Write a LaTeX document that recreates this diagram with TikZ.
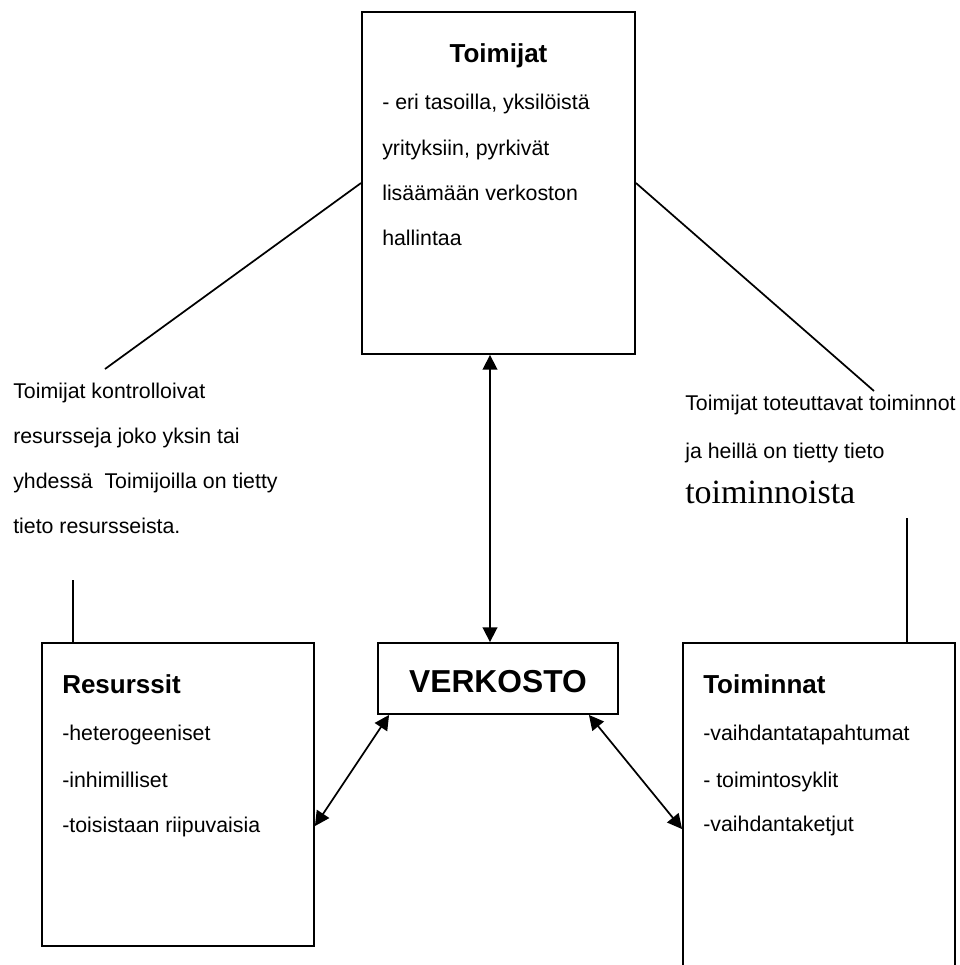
\documentclass[tikz,border=0pt]{standalone}
\usepackage{fontspec}
\setmainfont{Liberation Sans}
\newfontfamily\serifface{Liberation Serif}
\usetikzlibrary{arrows.meta,calc}
\begin{document}
\begin{tikzpicture}[x=0.75pt,y=-0.75pt,
  box/.style n args={2}{draw,line width=1.4pt,inner sep=0pt,
    minimum width=#1,minimum height=#2},
  body/.style={anchor=base west,inner sep=0pt,font=\fontsize{16}{19}\selectfont},
  heading/.style={anchor=base west,inner sep=0pt,font=\fontsize{19.5}{23}\selectfont\bfseries},
  link/.style={line width=1.3pt},
  arr/.style={line width=1.3pt,
    {Triangle[length=11pt,width=11pt]}-{Triangle[length=11pt,width=11pt]}}]
\useasboundingbox (0,0) rectangle (960,965);
\clip (0,0) rectangle (960,965);

% boxes
\node[box={204.75pt}{256.5pt}] (toimijat) at (498.5,183) {};
\node[box={204pt}{227.25pt}] (resurssit) at (178,794.5) {};
\node[box={204pt}{267.75pt}] (toiminnat) at (819,821.5) {};
\node[box={180pt}{53.25pt},text height=21.5pt,
  font=\fontsize{23.8}{28}\selectfont\bfseries]
  (verkosto) at (498,678.5) {VERKOSTO};

% Toimijat
\node[heading,anchor=base] (toimijatT) at (498.5,62) {Toimijat};
\node[body] (tm1) at (382,109) {- eri tasoilla, yksilöistä};
\node[body] (tm2) at (382,155) {yrityksiin, pyrkivät};
\node[body] (tm3) at (382,200) {lisäämään verkoston};
\node[body] (tm4) at (382,245) {hallintaa};

% Resurssit
\node[heading] (resT) at (62,693) {Resurssit};
\node[body] (rs1) at (62,740) {-heterogeeniset};
\node[body] (rs2) at (62,787) {-inhimilliset};
\node[body] (rs3) at (62,832) {-toisistaan riipuvaisia};

% Toiminnat
\node[heading] (toiT) at (703,693) {Toiminnat};
\node[body] (to1) at (703,740) {-vaihdantatapahtumat};
\node[body] (to2) at (703,787) {- toimintosyklit};
\node[body] (to3) at (703,831) {-vaihdantaketjut};

% side notes
\node[body] (ln1) at (13,398) {Toimijat kontrolloivat};
\node[body] (ln2) at (13,443) {resursseja joko yksin tai};
\node[body] (ln3) at (13,488) {yhdessä\ \ Toimijoilla on tietty};
\node[body] (ln4) at (13,533) {tieto resursseista.};

\node[body] (rn1) at (685,410) {Toimijat toteuttavat toiminnot};
\node[body] (rn2) at (685,458) {ja heillä on tietty tieto};
\node[anchor=base west,inner sep=0pt,font=\serifface\fontsize{25.5}{30}\selectfont]
  (rn3) at (685,503) {toiminnoista};

% plain connectors
\coordinate (lend) at (105,369);
\coordinate (rend) at (874,391);
\draw[link] (toimijat.west) -- (lend);
\draw[link] (toimijat.east) -- (rend);
\coordinate (ltop) at (73,580);
\draw[link] (ltop) -- (ltop |- resurssit.north);
\coordinate (rtop) at (907,518);
\draw[link] (rtop) -- (rtop |- toiminnat.north);

% arrows
\coordinate (va) at ($(verkosto.north)+(-8,0)$);
\draw[arr] (va |- toimijat.south) -- (va);
\draw[arr] ($(verkosto.south west)+(12,0)$) -- ($(resurssit.north east)+(0,184)$);
\draw[arr] ($(verkosto.south east)+(-30,0)$) -- ($(toiminnat.north west)+(0,187)$);
\end{tikzpicture}
\end{document}
